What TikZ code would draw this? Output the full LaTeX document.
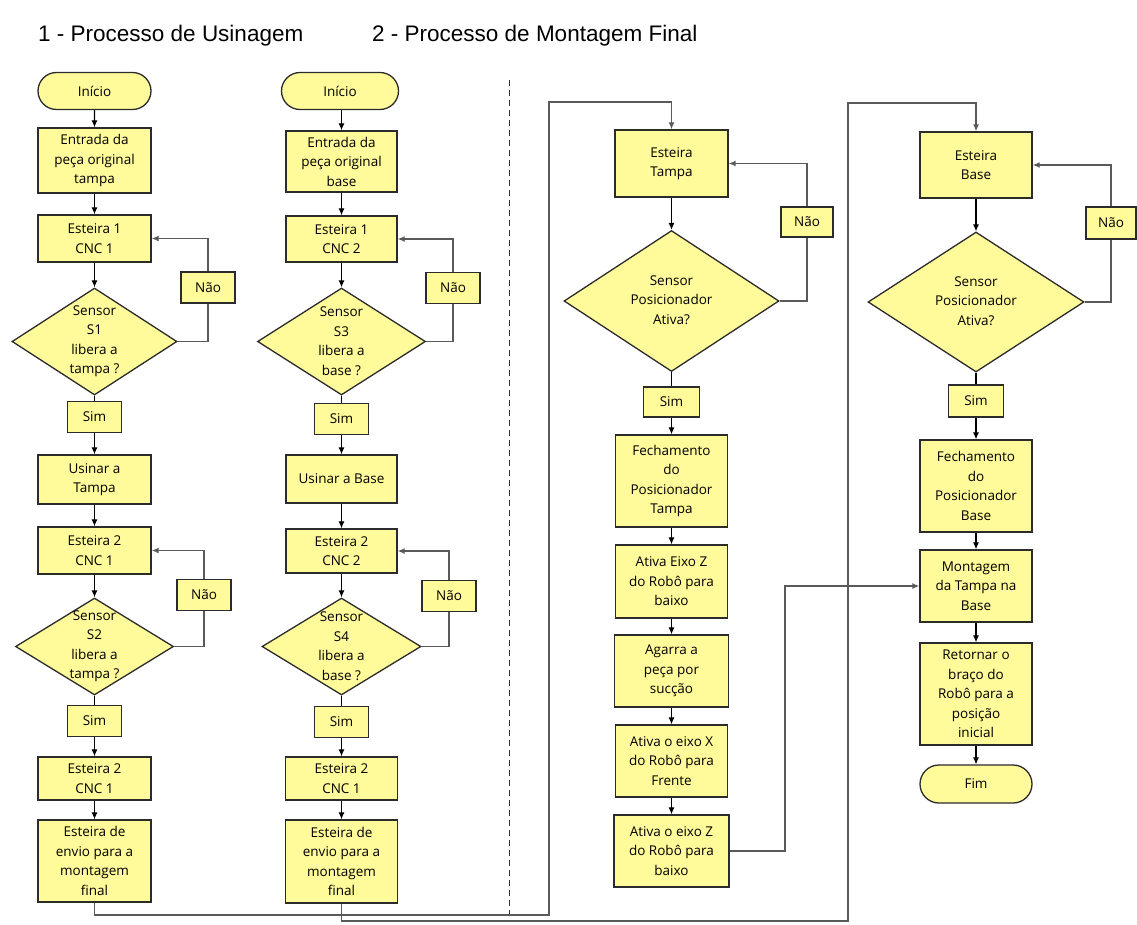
\documentclass[tikz,border=0pt]{standalone}
\usepackage{fontspec}
\setmainfont{Open Sans}
\newfontfamily\titlefont{Liberation Sans}
\usetikzlibrary{arrows.meta,shapes.geometric,shapes.misc}
\definecolor{boxfill}{HTML}{FFFB9A}
\definecolor{boxline}{HTML}{2B2B2B}
\definecolor{wire}{HTML}{5A5A5A}
\begin{document}
\begin{tikzpicture}[x=1pt,y=-1pt,
 every node/.style={font=\fontsize{13.5}{19.5}\selectfont},
 box/.style={rectangle,draw=boxline,fill=boxfill,line width=1.3pt,align=center,inner sep=0pt,minimum width=113pt},
 term/.style={rounded rectangle,draw=boxline,fill=boxfill,line width=1.3pt,inner sep=0pt,minimum width=113pt,minimum height=37pt},
 dec/.style={diamond,draw=boxline,fill=boxfill,line width=1.3pt,inner sep=0pt},
 lbl/.style={box,minimum width=54pt,minimum height=31pt},
 txt/.style={align=center,inner sep=0pt},
 ttl/.style={font=\titlefont\fontsize{22.5}{26}\selectfont,anchor=base west,inner sep=0pt},
 arr/.style={-{Latex[length=7pt,width=6pt]},line width=1.1pt,draw=black},
 plain/.style={line width=1.1pt,draw=black},
 wireline/.style={line width=1.4pt,draw=wire},
 wirearr/.style={wireline,-{Latex[length=7pt,width=6pt]}},
 divider/.style={line width=1pt,draw=black!80,dash pattern=on 6pt off 4pt}
]
\useasboundingbox[fill=white] (0,0) rectangle (1137,924);

% titles
\node[ttl] (t1) at (38,41) {1 - Processo de Usinagem};
\node[ttl] (t2) at (372,41) {2 - Processo de Montagem Final};

% divider
\coordinate (dv1) at (509,80);
\coordinate (dv2) at (509,917);
\draw[divider] (dv1) -- (dv2);

% ---------- column 1 ----------
\node[term] (st1) at (94.5,91) {Início};
\node[box,minimum height=65pt] (e1) at (94.5,160.5) {Entrada da\\peça original\\tampa};
\node[box,minimum height=47pt] (c11) at (94.5,238.5) {Esteira 1\\CNC 1};
\node[dec,minimum width=165pt,minimum height=107pt] (d1) at (94.5,341.5) {};
\node[txt] (d1t) at (94.5,341) {Sensor\\S1\\libera a\\tampa ?};
\node[lbl] (n1) at (208,287.5) {Não};
\node[lbl] (sim1) at (94.5,417) {Sim};
\node[box,minimum height=49pt] (u1) at (94.5,479.5) {Usinar a\\Tampa};
\node[box,minimum height=47pt] (c21) at (94.5,550.5) {Esteira 2\\CNC 1};
\node[dec,minimum width=158pt,minimum height=97pt] (d2) at (94.5,646.5) {};
\node[txt] (d2t) at (94.5,646) {Sensor\\S2\\libera a\\tampa ?};
\node[lbl] (n2) at (204,595) {Não};
\node[lbl] (sim2) at (94.5,721) {Sim};
\node[box,minimum height=43pt] (c31) at (94.5,778.5) {Esteira 2\\CNC 1};
\node[box,minimum height=82pt] (env1) at (94.5,861) {Esteira de\\envio para a\\montagem\\final};

% ---------- column 2 ----------
\node[term,minimum width=117pt] (st2) at (340,91) {Início};
\node[box,minimum width=111pt,minimum height=61pt] (e2) at (341.5,161.5) {Entrada da\\peça original\\base};
\node[box,minimum width=111pt,minimum height=46pt] (c12) at (341.5,239) {Esteira 1\\CNC 2};
\node[dec,minimum width=168pt,minimum height=107pt] (d3) at (341.5,341.5) {};
\node[txt] (d3t) at (341.5,341) {Sensor\\S3\\libera a\\base ?};
\node[lbl] (n3) at (453,288) {Não};
\node[lbl] (sim3) at (341.5,419) {Sim};
\node[box,minimum width=111pt,minimum height=48pt] (u2) at (341.5,479) {Usinar a Base};
\node[box,minimum width=111pt,minimum height=44pt] (c22) at (341.5,551) {Esteira 2\\CNC 2};
\node[dec,minimum width=159pt,minimum height=97pt] (d4) at (341.5,646.5) {};
\node[txt] (d4t) at (341.5,646) {Sensor\\S4\\libera a\\base ?};
\node[lbl] (n4) at (449,596) {Não};
\node[lbl] (sim4) at (341.5,722) {Sim};
\node[box,minimum width=112pt,minimum height=43pt] (c32) at (341.5,778.5) {Esteira 2\\CNC 1};
\node[box,minimum width=112pt,minimum height=83pt] (env2) at (341.5,861.5) {Esteira de\\envio para a\\montagem\\final};

% ---------- column 3 ----------
\node[box,minimum height=67pt] (et) at (671.5,163.5) {Esteira\\Tampa};
\node[dec,minimum width=215pt,minimum height=141pt] (d5) at (671.5,301) {};
\node[txt] (d5t) at (671.5,300) {Sensor\\Posicionador\\Ativa?};
\node[lbl,minimum width=52pt,minimum height=30pt] (n5) at (807,222) {Não};
\node[lbl,minimum width=56pt,minimum height=30pt] (sim5) at (671.5,402) {Sim};
\node[box,minimum width=112pt,minimum height=92pt] (f1) at (671.5,481) {Fechamento\\do\\Posicionador\\Tampa};
\node[box,minimum width=112pt,minimum height=73pt] (az1) at (671.5,581.5) {Ativa Eixo Z\\do Robô para\\baixo};
\node[box,minimum width=114pt,minimum height=72pt] (ag) at (671.5,671) {Agarra a\\peça por\\sucção};
\node[box,minimum width=112pt,minimum height=72pt] (ax) at (671.5,761) {Ativa o eixo X\\do Robô para\\Frente};
\node[box,minimum width=115pt,minimum height=72pt] (az2) at (671.5,851) {Ativa o eixo Z\\do Robô para\\baixo};

% ---------- column 4 ----------
\node[box,minimum width=112pt,minimum height=66pt] (eb) at (976,165) {Esteira\\Base};
\node[dec,minimum width=216pt,minimum height=140pt] (d6) at (976,302) {};
\node[txt] (d6t) at (976,301) {Sensor\\Posicionador\\Ativa?};
\node[lbl,minimum width=50pt,minimum height=32pt] (n6) at (1111,223) {Não};
\node[lbl,minimum width=55pt,minimum height=32pt] (sim6) at (976,401) {Sim};
\node[box,minimum width=112pt,minimum height=92pt] (f2) at (976,486) {Fechamento\\do\\Posicionador\\Base};
\node[box,minimum width=112pt,minimum height=72pt] (mt) at (976,586) {Montagem\\da Tampa na\\Base};
\node[box,minimum width=112pt,minimum height=102pt] (rt) at (976,694) {Retornar o\\braço do\\Robô para a\\posição\\inicial};
\node[term,minimum width=112pt,minimum height=38pt] (fim) at (976,784) {Fim};

% ---------- connectors column 1 ----------
\draw[arr] (st1) -- (e1);
\draw[arr] (e1) -- (c11);
\draw[arr] (c11) -- (d1);
\draw[wireline] (d1.east) -| (n1.south);
\draw[wirearr] (n1.north) |- (c11.east);
\draw[plain] (d1.south) -- (sim1.north);
\draw[arr] (sim1) -- (u1);
\draw[arr] (u1) -- (c21);
\draw[arr] (c21) -- (d2);
\draw[wireline] (d2.east) -| (n2.south);
\draw[wirearr] (n2.north) |- (c21.east);
\draw[plain] (d2.south) -- (sim2.north);
\draw[arr] (sim2) -- (c31);
\draw[arr] (c31) -- (env1);

% ---------- connectors column 2 ----------
\draw[arr] (st2.south -| c12.north) -- (e2);
\draw[arr] (e2) -- (c12);
\draw[arr] (c12) -- (d3);
\draw[wireline] (d3.east) -| (n3.south);
\draw[wirearr] (n3.north) |- (c12.east);
\draw[plain] (d3.south) -- (sim3.north);
\draw[arr] (sim3) -- (u2);
\draw[arr] (u2) -- (c22);
\draw[arr] (c22) -- (d4);
\draw[wireline] (d4.east) -| (n4.south);
\draw[wirearr] (n4.north) |- (c22.east);
\draw[plain] (d4.south) -- (sim4.north);
\draw[arr] (sim4) -- (c32);
\draw[arr] (c32) -- (env2);

% ---------- connectors column 3 ----------
\draw[arr] (et) -- (d5);
\draw[wireline] (d5.east) -| (n5.south);
\draw[wirearr] (n5.north) |- (et.east);
\draw[plain] (d5.south) -- (sim5.north);
\draw[arr] (sim5) -- (f1);
\draw[arr] (f1) -- (az1);
\draw[arr] (az1) -- (ag);
\draw[arr] (ag) -- (ax);
\draw[arr] (ax) -- (az2);

% ---------- connectors column 4 ----------
\draw[arr] (eb) -- (d6);
\draw[wireline] (d6.east) -| (n6.south);
\draw[wirearr] (n6.north) |- (eb.east);
\draw[plain] (d6.south) -- (sim6.north);
\draw[arr] (sim6) -- (f2);
\draw[arr] (f2) -- (mt);
\draw[arr] (mt) -- (rt);
\draw[arr] (rt) -- (fim);

% ---------- long routes ----------
\coordinate (ra) at (549,915);
\coordinate (rb) at (549,102);
\draw[wirearr] (env1.south) |- (ra) -- (rb) -| (et.north);
\coordinate (rc) at (848,921);
\coordinate (rd) at (848,103);
\draw[wirearr] (env2.south) |- (rc) -- (rd) -| (eb.north);
\coordinate (re) at (785,851);
\draw[wirearr] (az2.east) -- (re) |- (mt.west);
\end{tikzpicture}
\end{document}
